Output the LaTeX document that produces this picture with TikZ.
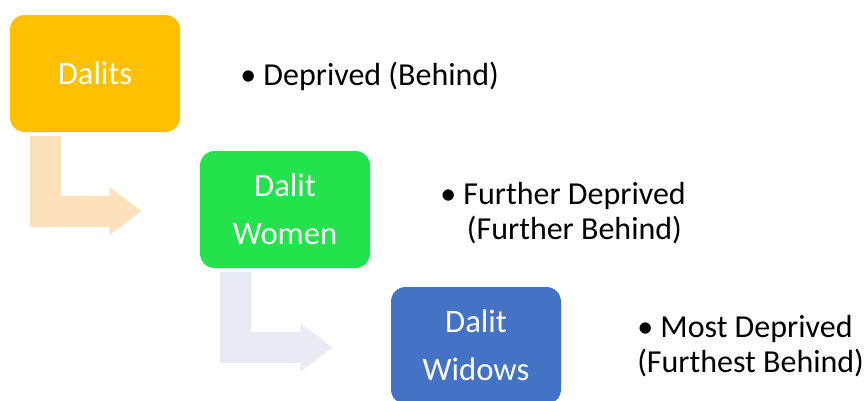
\documentclass[tikz,border=0pt]{standalone}
\usepackage{fontspec}
\setmainfont{Carlito}
\usetikzlibrary{arrows.meta,positioning,calc}
\definecolor{dalitgold}{HTML}{FFC000}
\definecolor{womengreen}{HTML}{24E24C}
\definecolor{widowblue}{HTML}{4472C4}
\definecolor{peach}{HTML}{FDE0BC}
\definecolor{lavender}{HTML}{E8EAF4}
\tikzset{
  tier/.style={rounded corners=11pt, minimum width=127.5pt, minimum height=87.75pt, align=center, text=white, inner sep=0pt, font=\fontsize{24.5}{36}\selectfont},
  note/.style={anchor=west, align=left, inner sep=0pt, font=\fontsize{24}{26.25}\selectfont},
  bent/.style={line width=23.25pt, line join=miter, -{Triangle[length=24pt, width=34pt]}}
}
\begin{document}
\begin{tikzpicture}[x=0.75pt,y=-0.75pt]
  \useasboundingbox[fill=white] (0,0) rectangle (867,400);
  \node[tier, fill=dalitgold] (dalits) at (95,73.5) {Dalits};
  \node[tier, fill=womengreen] (women) at (285,209.5) {Dalit\\Women};
  \node[tier, fill=widowblue] (widows) at (476,345.5) {Dalit\\Widows};
  \node[note] (dalitsnote) at (240,76) {\textbullet\ Deprived (Behind)};
  \node[note] (womennote) at (440,213) {\textbullet\ Further Deprived\\\hspace*{20pt}(Further Behind)};
  \node[note] (widowsnote) at (637,346) {\textbullet\ Most Deprived\\(Furthest Behind)};
  \draw[bent, peach] ($(dalits.south west)+(35.5,4)$) |- ($(women.west)+(-58,1.5)$);
  \draw[bent, lavender] ($(women.south west)+(35.5,4)$) |- ($(widows.west)+(-58,2)$);
\end{tikzpicture}
\end{document}
